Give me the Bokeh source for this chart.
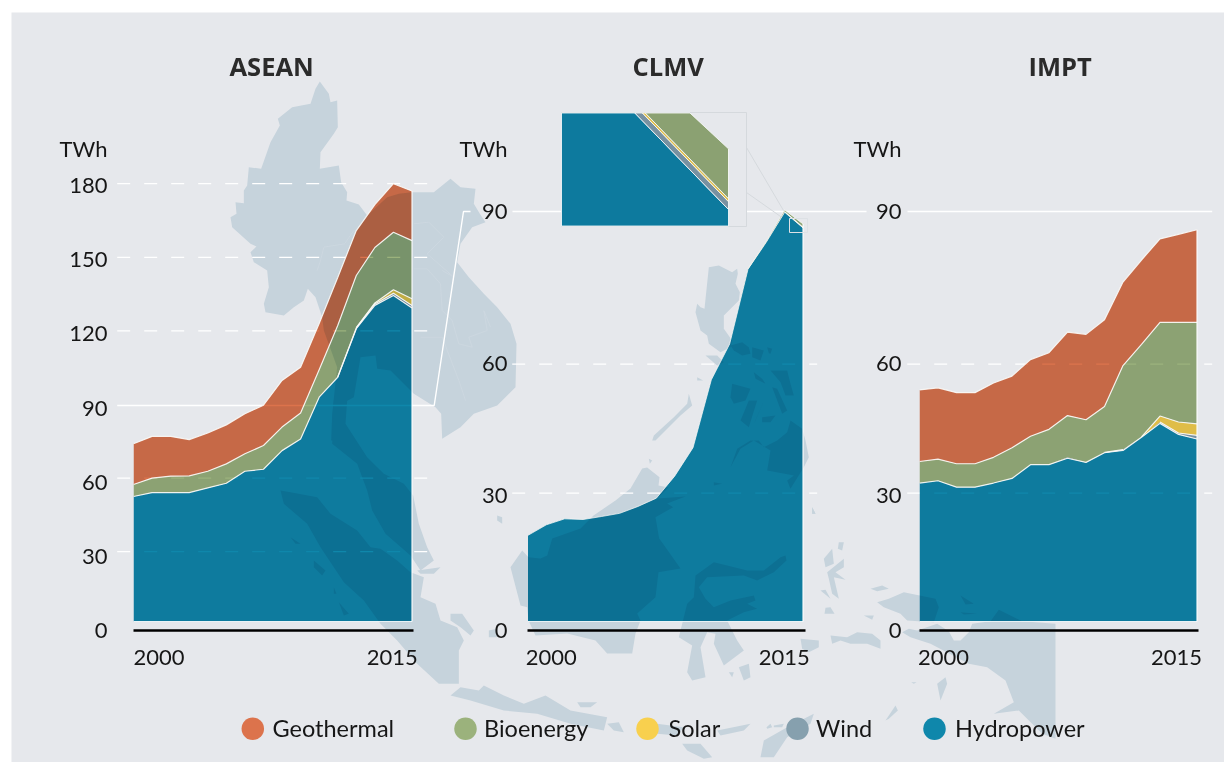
from bokeh.embed import file_html
from bokeh.resources import INLINE
from bokeh.plotting import figure
from bokeh.layouts import row, column
from bokeh.models import Range1d, LinearAxis, FixedTicker
from bokeh.core.properties import value

# ------------------------------------------------------------------ data
YEARS = list(range(2000, 2016))
YEAR_TICKS = [2000, 2015]
SOURCES = ["Hydropower", "Wind", "Solar", "Bioenergy", "Geothermal"]
COLORS = {"Geothermal": "#dc734c", "Bioenergy": "#9bb27c", "Solar": "#f8d04e",
          "Wind": "#86a0ae", "Hydropower": "#0f87ab"}
LEGEND_ORDER = ["Geothermal", "Bioenergy", "Solar", "Wind", "Hydropower"]

asean_hydro = [52.5, 54.1, 54.1, 54.1, 56.0, 57.9, 62.8, 63.6, 71.2, 75.9, 93.0, 101.1, 120.9, 130.4, 134.4, 129.3]
asean_wind = [0, 0, 0, 0, 0, 0, 0, 0, 0, 0, 0, 0.1, 0.3, 0.6, 0.9, 1.1]
asean_solar = [0, 0, 0, 0, 0, 0, 0, 0, 0, 0, 0, 0, 0.1, 0.4, 1.5, 2.7]
asean_bio = [4.9, 5.9, 6.7, 6.8, 6.8, 7.9, 7.1, 9.7, 9.6, 10.6, 11.2, 21.0, 21.3, 22.6, 23.4, 23.7]
asean_geo = [16.6, 17.0, 16.2, 14.8, 15.6, 15.9, 16.3, 16.4, 19.0, 18.7, 18.8, 19.6, 18.3, 17.5, 19.8, 20.2]

clmv_hydro = [19.6, 21.9, 23.2, 23.05, 23.7, 24.4, 25.9, 27.7, 32.5, 38.7, 53.5, 61.3, 77.6, 83.5, 90.0, 86.6]
clmv_wind = [0, 0, 0, 0, 0, 0, 0, 0, 0, 0, 0, 0, 0, 0, 0.11, 0.11]
clmv_solar = [0, 0, 0, 0, 0, 0, 0, 0, 0, 0, 0, 0, 0, 0, 0.042, 0.042]
clmv_bio = [0, 0, 0, 0, 0, 0, 0, 0, 0, 0, 0, 0, 0.1, 0.2, 0.37, 0.70]
clmv_geo = [0] * 16

impt_hydro = [31.0, 31.5, 30.1, 30.1, 31.0, 32.0, 35.0, 35.0, 36.4, 35.5, 37.6, 38.1, 41.0, 44.0, 41.6, 40.6]
impt_wind = [0, 0, 0, 0, 0, 0, 0, 0, 0.2, 0, 0.1, 0.2, 0, 0.3, 0.3, 0.8]
impt_solar = [0, 0, 0, 0, 0, 0, 0, 0, 0, 0, 0, 0, 0.05, 1.3, 2.4, 2.5]
impt_bio = [4.7, 4.7, 5.1, 5.1, 5.6, 6.7, 6.2, 7.7, 9.1, 9.3, 10.0, 18.3, 20.15, 20.4, 21.7, 22.1]
impt_geo = [15.6, 15.55, 15.5, 15.5, 16.2, 15.6, 16.7, 16.7, 18.2, 18.6, 18.9, 18.2, 18.4, 18.2, 19.2, 20.2]

SERIES = {
    "ASEAN": [asean_hydro, asean_wind, asean_solar, asean_bio, asean_geo],
    "CLMV": [clmv_hydro, clmv_wind, clmv_solar, clmv_bio, clmv_geo],
    "IMPT": [impt_hydro, impt_wind, impt_solar, impt_bio, impt_geo],
}
TICK_LABELS = {
    "ASEAN": ["0", "30", "60", "90", "120", "150", "180", "TWh"],
    "CLMV": ["0", "30", "60", "90", "TWh"],
    "IMPT": ["0", "30", "60", "90", "TWh"],
}

# ------------------------------------------------------------------ layout
FONT = "Lato"
FS = "22px"
LEG_FS = "23.5px"
BG = "#e6e8ec"
MAPC = "#c6d3dc"
INK = "#161616"
TOP, BOT = 88, 630   # page y of frames
PW, PH = 1224, 762

LAYOUT = {
    "ASEAN": dict(fig=(0, 420), frame=(133, 418), area=(133, 411.5), line=(133, 412.5), y0=624.8, k=2.4533,
                  lab0=629.0, labk=2.472, labpos=[0, 30, 60, 90, 120, 150, 180, 194.6], standoff=26,
                  grid=[30, 60, 120, 150, 180], gridx=(116.7, 426.7), xc=(158.5, 391.7), title=229),
    "CLMV": dict(fig=(420, 810), frame=(527, 810), area=(527.5, 802.5), line=(525.5, 805), y0=624.8, k=4.589,
                 lab0=629.0, labk=4.656, labpos=[0, 29.0, 57.3, 90, 103.3], standoff=20,
                 grid=[28.8, 56.9], gridx=(511.7, 816.7), xc=(550.8, 783.7), title=632),
    "IMPT": dict(fig=(810, 1224), frame=(919, 1200), area=(919, 1196.5), line=(918.3, 1197.5), y0=624.8, k=4.589,
                 lab0=629.0, labk=4.656, labpos=[0, 29.0, 57.3, 90, 103.3], standoff=18,
                 grid=[28.8, 56.9], gridx=(906.7, 1211.7), xc=(943, 1176), title=1028),
}
AREA_BOTTOM_PX = 621


def yv(c, px):
    return (c["y0"] - px) / c["k"]


def xv(c, px):
    a, b = c["area"]
    return 2000 + (px - a) * 15 / (b - a)


def stack(name):
    out, cum = [], [0.0] * 16
    for s in SERIES[name]:
        nxt = [u + v for u, v in zip(cum, s)]
        out.append((list(cum), nxt, s))
        cum = nxt
    return out


def on_panel(col):
    """Colour of a band as it appears multiplied on the grey panel."""
    c = [int(col[i:i + 2], 16) for i in (1, 3, 5)]
    b = [int(BG[i:i + 2], 16) for i in (1, 3, 5)]
    return "#%02x%02x%02x" % tuple(int(u * v / 255) for u, v in zip(c, b))


# ------------------------------------------------------------------ map (decorative backdrop)
def Z(ox, oy, pts, f=3):
    return [(ox + x / f, oy + y / f) for x, y in pts]


Z6, Z7, Z8, Z9, Z10 = (220, 80), (270, 400), (500, 240), (510, 500), (760, 500)
MAP_SHAPES = [
    Z(*Z6, [(298,3),(325,40),(330,65),(350,60),(352,140),(340,160),(300,215),(298,265),(355,255),(362,305),(380,335),(378,360),(415,372),(440,405),(500,350),(535,340),(573,335),(640,335),(690,295),(720,320),(765,325),(760,370),(778,400),(795,425),(755,440),(720,490),(710,545),(745,590),(790,640),(830,680),(870,730),(888,790),(885,920),(830,975),(760,1000),(720,1040),(665,1075),(662,1000),(645,980),(580,940),(510,870),(470,865),(465,825),(420,830),(400,950),(345,980),(340,1040),(345,1080),(332,1080),(335,1000),(350,860),(310,750),(305,710),(285,650),(262,625),(250,660),(220,680),(190,705),(135,695),(130,670),(145,620),(140,570),(100,545),(90,515),(108,498),(90,490),(35,440),(30,410),(48,400),(45,365),(70,368),(70,330),(80,315),(85,260),(122,265),(150,185),(178,135),(172,115),(215,80),(270,70),(285,25)]),
    Z(*Z7, [(190,0),(185,130),(260,190),(290,270),(305,330),(345,400),(420,465),(450,510),(490,480),(470,440),(445,370),(428,285),(400,250),(340,220),(290,170),(225,70),(230,0)]),
    Z(*Z7, [(30,270),(60,275),(140,290),(180,340),(260,390),(300,440),(330,445),(380,480),(420,515),(460,530),(450,590),(495,610),(510,660),(560,680),(580,720),(565,750),(565,850),(505,850),(440,790),(380,720),(330,670),(280,600),(220,545),(150,440),(110,370),(40,310)]),
    Z(*Z7, [(60,410),(90,430),(75,430)]),
    Z(*Z7, [(130,480),(165,510),(155,525),(130,500)]),
    Z(*Z7, [(190,560),(198,580),(190,580)]),
    Z(*Z7, [(205,605),(235,640),(220,645)]),
    Z(*Z7, [(540,640),(575,640),(610,690),(600,705),(570,680),(540,660)]),
    Z(*Z7, [(440,510),(510,500),(490,520),(450,520)]),
    Z(*Z7, [(680,345),(695,350),(695,370),(680,360)]),
    Z(*Z7, [(655,690),(680,685),(680,710),(655,710)]),
    # Borneo
    [(593,515),(615,500),(630,488),(641.7,468),(646.7,467),(659,476.7),(658,485),(668,487),(656.7,498),(685,496),(666.7,503),(672.7,506.7),(655,516.7),(659,540),(653,530),(665,546.7),(680,568),(658,571.7),(655,596.7),(636.7,613),(640,620),(635,633),(631.7,653),(606.7,653),(595,640),(566.7,633),(535,635),(528,620),(526.7,606.7),(520,605),(510,566.7),(521.7,550),(528,556.7),(540,558),(546.7,555),(551.7,538),(580,528),(595,513)],
    # Sulawesi
    Z(*Z9, [(555,225),(610,185),(650,195),(710,210),(760,210),(810,170),(825,165),(828,180),(790,215),(740,240),(700,225),(590,230),(565,260),(585,295),(610,320),(660,300),(730,285),(735,300),(710,310),(740,325),(700,335),(650,360),(680,420),(700,450),(640,495),(610,430),(615,400),(590,395),(570,440),(585,530),(545,540),(530,515),(545,435),(505,410),(530,310),(550,290)]),
    # Java and the lesser Sundas
    Z(*Z7, [(540,885),(570,860),(625,870),(640,855),(700,885),(760,910),(825,885),(900,930),(1010,950),(1000,990),(900,970),(800,940),(700,930),(600,900)]),
    Z(*Z9, [(200,605),(260,605),(240,620),(210,620)]),
    Z(*Z9, [(290,670),(325,665),(340,695),(310,690)]),
    Z(*Z9, [(440,670),(520,680),(500,705),(440,700)]),
    Z(*Z9, [(620,690),(720,670),(700,690),(630,705)]),
    Z(*Z9, [(768,680),(780,670),(785,680),(770,685)]),
    Z(*Z9, [(790,675),(820,670),(815,680),(790,680)]),
    Z(*Z9, [(750,770),(760,720),(830,680),(910,640),(900,670),(830,710),(790,770)]),
    Z(*Z9, [(515,730),(570,730),(605,770),(580,775),(530,750)]),
    Z(*Z9, [(655,515),(670,515),(665,530)]),
    Z(*Z9, [(685,500),(715,490),(720,530),(700,540)]),
    # Moluccas
    Z(*Z10, [(215,145),(220,190),(195,200),(190,175)]),
    Z(*Z10, [(235,125),(250,125),(245,150),(232,145)]),
    Z(*Z10, [(200,215),(250,175),(250,200),(225,215),(255,238),(220,230),(235,295),(215,280),(205,235)]),
    Z(*Z10, [(180,270),(195,268),(210,295)]),
    Z(*Z10, [(195,322),(210,320),(222,340),(192,340)]),
    Z(*Z10, [(210,405),(260,410),(290,395),(335,400),(360,420),(360,445),(320,430),(270,430),(240,420),(215,430)]),
    Z(*Z10, [(120,415),(175,420),(175,440),(145,455),(125,445)]),
    Z(*Z10, [(330,265),(365,255),(385,265),(350,272)]),
    Z(*Z10, [(310,345),(340,345),(335,358)]),
    Z(*Z10, [(155,20),(165,40),(155,40)]),
    # Papua
    Z(*Z10, [(350,305),(385,295),(430,275),(525,295),(535,320),(520,365),(440,360),(420,340),(370,320)]),
    Z(*Z10, [(425,395),(445,385),(470,390),(530,370),(565,392),(580,420),(600,420),(625,395),(635,370),(690,362),(715,328),(785,362),(885,370),(885,715),(845,700),(775,630),(700,640),(760,605),(735,540),(680,500),(625,490),(510,430),(480,420),(450,410)]),
    Z(*Z10, [(600,285),(640,310),(615,312)]),
    Z(*Z10, [(600,335),(650,340),(610,342)]),
    Z(*Z10, [(530,550),(555,530),(560,550),(540,600)]),
    Z(*Z10, [(375,660),(405,615),(412,630),(385,655)]),
    Z(*Z10, [(452,545),(468,545),(460,550)]),
    # Philippines
    Z(*Z8, [(625,80),(655,75),(695,95),(710,85),(712,100),(705,130),(718,155),(715,180),(670,225),(670,265),(695,300),(690,320),(660,335),(625,310),(620,285),(600,270),(585,215),(590,190),(600,200),(612,205)]),
    Z(*Z8, [(615,345),(650,345),(670,365),(650,375)]),
    Z(*Z8, [(565,460),(575,495),(540,525),(465,600),(455,600),(460,585),(520,530),(560,490)]),
    Z(*Z8, [(690,315),(725,305),(745,320),(750,340),(725,345),(700,330)]),
    Z(*Z8, [(755,320),(790,330),(780,360),(755,350)]),
    Z(*Z8, [(800,320),(815,325),(810,340),(805,338)]),
    Z(*Z8, [(810,390),(860,390),(870,430),(880,465),(855,465),(840,425)]),
    Z(*Z8, [(760,395),(785,415),(795,430),(765,415)]),
    Z(*Z8, [(695,430),(750,445),(735,480),(700,490),(690,470)]),
    Z(*Z8, [(745,480),(770,480),(745,560),(720,540)]),
    Z(*Z8, [(795,470),(760,550),(765,540)]),
    Z(*Z8, [(785,530),(825,525),(810,545),(785,545)]),
    Z(*Z8, [(815,440),(830,445),(860,510),(845,520)]),
    Z(*Z8, [(870,540),(905,565),(915,600),(925,650),(910,680),(870,745),(860,720),(880,705),(800,690),(810,630),(760,600),(720,625),(690,680),(710,625),(750,600),(775,600),(790,620),(830,600),(860,575)]),
    Z(*Z8, [(590,410),(608,420),(590,420)]),
    Z(*Z8, [(445,655),(455,660),(448,670)]),
    Z(*Z8, [(935,800),(945,820),(935,820)]),
    Z(*Z8, [(640,725),(665,730),(640,735)]),
]
MAP_BORDERS = [
    Z(*Z6, [(290,570),(300,540),(310,500),(372,490),(400,450)]),
    Z(*Z6, [(580,430),(625,425),(670,470),(620,520),(700,590),(665,570)]),
    Z(*Z6, [(580,565),(620,565),(660,610),(665,690),(695,720),(715,790),(755,800),(745,770),(800,750),(790,690),(810,740)]),
    Z(*Z6, [(600,770),(665,770),(715,900),(735,960)]),
]

# ------------------------------------------------------------------ layer A: panel, map, grid, legend
bg = figure(width=PW, height=PH, x_range=Range1d(0, PW), y_range=Range1d(PH, 0), x_axis_type=None,
            y_axis_type=None, toolbar_location=None, output_backend="svg", min_border=0,
            outline_line_color=None, background_fill_color="white", border_fill_color="white")
bg.quad(left=[11], right=[PW], top=[12], bottom=[PH], fill_color=BG, line_color=None)
bg.patches([[p[0] for p in s] for s in MAP_SHAPES], [[p[1] for p in s] for s in MAP_SHAPES],
           fill_color=MAPC, line_color=None)
bg.multi_line([[p[0] for p in s] for s in MAP_BORDERS], [[p[1] for p in s] for s in MAP_BORDERS],
              line_color="#ced9e1", line_width=0.7)

for name, c in LAYOUT.items():
    bg.extra_y_ranges[name] = Range1d(yv(c, PH), yv(c, 0))
    n = len(c["grid"])
    bg.segment(x0=[c["gridx"][0]] * n, x1=[c["gridx"][1]] * n, y0=c["grid"], y1=c["grid"],
               y_range_name=name, line_color="white", line_width=1.3, line_dash="13 14")

# the solid 90 line that joins the panels
bg.line([116.7, 433.7, 463, 470], [405, 405, 211, 211], line_color="white", line_width=1.4)
bg.line([512, 866], [211, 211], line_color="white", line_width=1.4)
bg.line([907, 1211.7], [211, 211], line_color="white", line_width=1.4)

LEG_CIRCLE = [252.3, 465, 647, 797, 934]
LEG_TEXT = [272, 483.5, 668, 815.5, 954.5]
bg.scatter(LEG_CIRCLE, [728.3] * 5, size=22.5, marker="circle",
           fill_color=[COLORS[s] for s in LEGEND_ORDER], line_color=None)
bg.text(LEG_TEXT, [727.5] * 5, text=LEGEND_ORDER, text_font=value(FONT), text_font_size=LEG_FS,
        text_color=INK, text_baseline="middle", text_align="left")


# ------------------------------------------------------------------ layers B and C: one figure per panel
def base_fig(name, title=None):
    c = LAYOUT[name]
    fl, fr = c["fig"]
    a, b = c["frame"]
    p = figure(width=fr - fl, height=PH, x_range=Range1d(xv(c, a), xv(c, b)),
               y_range=Range1d(yv(c, BOT), yv(c, TOP)), x_axis_type=None, y_axis_type=None,
               toolbar_location=None, output_backend="svg", outline_line_color=None,
               background_fill_color=None, border_fill_color=None,
               min_border_left=a - fl, min_border_right=fr - b, min_border_top=TOP,
               min_border_bottom=PH - BOT, title=title)
    return p


def areas(name):
    c = LAYOUT[name]
    p = base_fig(name)
    base = yv(c, AREA_BOTTOM_PX)
    for src, (lo, hi, s) in zip(SOURCES, stack(name)):
        if not any(s):
            continue
        p.varea(YEARS, [max(v, base) for v in lo], hi, fill_color=COLORS[src])
    return p


def clip_top(xs, ys, ymax):
    out = []
    pts = list(zip(xs, ys))
    for i, (x, y) in enumerate(pts):
        xn, yn = pts[(i + 1) % len(pts)]
        if y <= ymax:
            out.append((x, y))
        if (y <= ymax) != (yn <= ymax):
            t = (ymax - y) / (yn - y)
            out.append((x + t * (xn - x), ymax))
    return [q[0] for q in out], [q[1] for q in out]


def top_layer(name):
    c = LAYOUT[name]
    p = base_fig(name, title=name)
    a, b = c["frame"]
    p.title.align = "left"
    p.title.offset = c["title"] - a
    p.title.text_font = "Open Sans"
    p.title.text_font_size = "25.5px"
    p.title.text_font_style = "bold"
    p.title.text_color = "#2b2b2b"
    p.title.standoff = 12

    # page pixel scale for annotations
    p.extra_x_ranges["px"] = Range1d(a, b)
    p.extra_y_ranges["px"] = Range1d(BOT, TOP)

    # y tick labels: own scale because the printed labels sit off the gridlines
    p.extra_y_ranges["labels"] = Range1d((c["lab0"] - BOT) / c["labk"], (c["lab0"] - TOP) / c["labk"])
    yax = LinearAxis(y_range_name="labels", ticker=FixedTicker(ticks=c["labpos"]),
                     major_label_overrides=dict(zip(c["labpos"], TICK_LABELS[name])),
                     axis_line_color=None, major_tick_line_color=None, minor_tick_line_color=None,
                     major_tick_out=0, major_tick_in=0,
                     major_label_text_font=FONT, major_label_text_font_size=FS,
                     major_label_text_color=INK, major_label_standoff=c["standoff"])
    p.add_layout(yax, "left")

    # x labels: own scale so that 2000/2015 are flush with the ends of the baseline
    c0, c1 = c["xc"]
    xl = lambda px: 2000 + (px - c0) * 15 / (c1 - c0)
    p.extra_x_ranges["labels"] = Range1d(xl(a), xl(b))
    xax = LinearAxis(x_range_name="labels", ticker=FixedTicker(ticks=YEAR_TICKS),
                     major_label_overrides={y: str(y) for y in YEAR_TICKS},
                     axis_line_color="black", axis_line_width=2.6, major_tick_line_color=None,
                     minor_tick_line_color=None, major_label_text_font=FONT,
                     major_label_text_font_size=FS, major_label_text_color=INK,
                     major_label_standoff=13, bounds=(xl(c["line"][0]), xl(c["line"][1])))
    p.add_layout(xax, "below")

    # white strokes between the stacked bands
    base = yv(c, AREA_BOTTOM_PX)
    lw = 0.8 if name == "CLMV" else 1.2
    for src, (lo, hi, s) in zip(SOURCES, stack(name)):
        if not any(s):
            continue
        ys = [h if (v > 0 or src == "Hydropower") else float("nan") for h, v in zip(hi, s)]
        p.line(YEARS, ys, line_color="#fbfbf8", line_alpha=0.9, line_width=lw)
    tops = stack(name)[-1][1]
    p.line([2015, 2015], [base, tops[-1]], line_color="white", line_alpha=0.9, line_width=1.2)
    p.line([2000, 2015], [base, base], line_color="white", line_alpha=0.85, line_width=1.0)

    if name == "CLMV":
        # call-out: magnified view of the last two years
        ln = "#d5d9dd"
        p.quad(left=[561], right=[746], top=[112], bottom=[226], x_range_name="px", y_range_name="px",
               fill_color=BG, line_color=ln, line_width=1)
        pxyr, pxtw = 235.0, 71.2
        i_left = 2015 - (728 - 561) / pxyr
        h15 = SERIES[name][0][-1]
        vy = lambda py: h15 + (209 - py) / pxtw
        fx = lambda px: 2015 + (px - 728) / pxyr
        p.extra_x_ranges["inset"] = Range1d(fx(a), fx(b))
        p.extra_y_ranges["inset"] = Range1d(vy(BOT), vy(TOP))
        t = (i_left - 2014)
        ytop = vy(112.5)
        for src, (lo, hi, s) in zip(SOURCES[:4], stack(name)[:4]):
            if src == "Hydropower":
                l0, l1 = vy(225.5), vy(225.5)
            else:
                l0, l1 = lo[14] + t * (lo[15] - lo[14]), lo[15]
            h0, h1 = hi[14] + t * (hi[15] - hi[14]), hi[15]
            xs, ys = clip_top([i_left, 2015, 2015, i_left], [l0, l1, h1, h0], ytop)
            p.patch(xs, ys, x_range_name="inset", y_range_name="inset", fill_color=on_panel(COLORS[src]),
                    line_color="white", line_width=0.8)
        p.line([746, 783], [147, 210], x_range_name="px", y_range_name="px", line_color=ln, line_width=1)
        p.line([746, 781.5], [192, 217], x_range_name="px", y_range_name="px", line_color=ln, line_width=1)
        p.quad(left=[789], right=[807], top=[218], bottom=[232], x_range_name="px", y_range_name="px",
               fill_color=None, line_color="#dde1e5", line_width=1)
    return p


names = list(LAYOUT)
layer_b = row([areas(n) for n in names], spacing=0, margin=(-PH, 0, 0, 0),
              styles={"mix-blend-mode": "multiply"})
layer_c = row([top_layer(n) for n in names], spacing=0, margin=(-PH, 0, 0, 0))
root = column([bg, layer_b, layer_c], spacing=0)

open("out.html", "w").write(file_html(root, INLINE))
